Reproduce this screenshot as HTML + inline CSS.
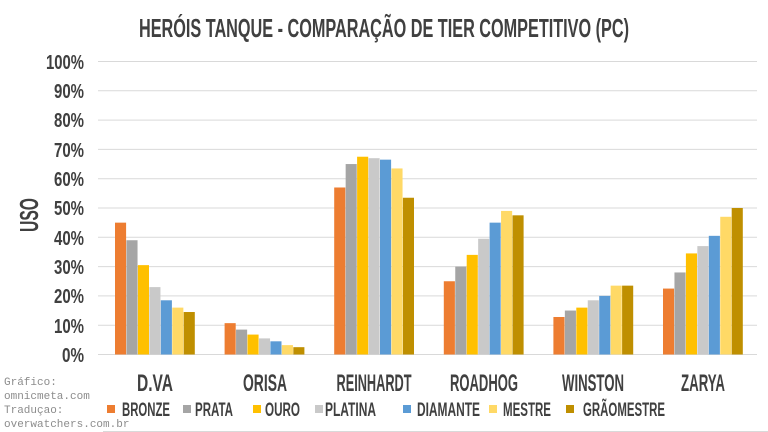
<!DOCTYPE html>
<html><head><meta charset="utf-8"><style>
body{margin:0;background:#fff}
svg{display:block}
text{font-family:"Liberation Sans Narrow","Liberation Sans",sans-serif;font-weight:bold;fill:#404040}
</style></head><body>
<svg width="768" height="432" viewBox="0 0 768 432">
<rect width="768" height="432" fill="#fff"/>
<text x="384" y="37" font-size="26" text-anchor="middle" textLength="490" lengthAdjust="spacingAndGlyphs" fill="#595959">HERÓIS TANQUE - COMPARAÇÃO DE TIER COMPETITIVO (PC)</text>
<g stroke="#d9d9d9" stroke-width="1">
<line x1="98" x2="757" y1="61.5" y2="61.5"/><line x1="98" x2="757" y1="90.8" y2="90.8"/><line x1="98" x2="757" y1="120.1" y2="120.1"/><line x1="98" x2="757" y1="149.4" y2="149.4"/><line x1="98" x2="757" y1="178.7" y2="178.7"/><line x1="98" x2="757" y1="208" y2="208"/><line x1="98" x2="757" y1="237.3" y2="237.3"/><line x1="98" x2="757" y1="266.6" y2="266.6"/><line x1="98" x2="757" y1="295.9" y2="295.9"/><line x1="98" x2="757" y1="325.2" y2="325.2"/><line x1="98" x2="757" y1="354.5" y2="354.5"/>
<line x1="103" x2="768" y1="431.5" y2="431.5"/>
</g>
<g font-size="20" text-anchor="end">
<text x="84" y="69" textLength="38" lengthAdjust="spacingAndGlyphs">100%</text>
<text x="84" y="98" textLength="30" lengthAdjust="spacingAndGlyphs">90%</text>
<text x="84" y="127" textLength="30" lengthAdjust="spacingAndGlyphs">80%</text>
<text x="84" y="157" textLength="30" lengthAdjust="spacingAndGlyphs">70%</text>
<text x="84" y="186" textLength="30" lengthAdjust="spacingAndGlyphs">60%</text>
<text x="84" y="215" textLength="30" lengthAdjust="spacingAndGlyphs">50%</text>
<text x="84" y="245" textLength="30" lengthAdjust="spacingAndGlyphs">40%</text>
<text x="84" y="274" textLength="30" lengthAdjust="spacingAndGlyphs">30%</text>
<text x="84" y="303" textLength="30" lengthAdjust="spacingAndGlyphs">20%</text>
<text x="84" y="333" textLength="30" lengthAdjust="spacingAndGlyphs">10%</text>
<text x="84" y="362" textLength="22" lengthAdjust="spacingAndGlyphs">0%</text>
</g>
<text transform="translate(38,215) rotate(-90)" font-size="26" text-anchor="middle" textLength="34" lengthAdjust="spacingAndGlyphs">USO</text>
<g id="bars"></g>
<g font-size="24" text-anchor="middle">
<text x="155" y="391" textLength="36" lengthAdjust="spacingAndGlyphs">D.VA</text>
<text x="265" y="391" textLength="44" lengthAdjust="spacingAndGlyphs">ORISA</text>
<text x="374" y="391" textLength="75" lengthAdjust="spacingAndGlyphs">REINHARDT</text>
<text x="484" y="391" textLength="68" lengthAdjust="spacingAndGlyphs">ROADHOG</text>
<text x="593" y="391" textLength="62" lengthAdjust="spacingAndGlyphs">WINSTON</text>
<text x="703" y="391" textLength="44" lengthAdjust="spacingAndGlyphs">ZARYA</text>
</g>
<g font-size="19">
<rect x="107" y="405" width="8" height="8" fill="#ed7d31"/><text x="122" y="416" textLength="48" lengthAdjust="spacingAndGlyphs">BRONZE</text>
<rect x="183" y="405" width="8" height="8" fill="#a5a5a5"/><text x="195" y="416" textLength="38" lengthAdjust="spacingAndGlyphs">PRATA</text>
<rect x="253" y="405" width="8" height="8" fill="#ffc000"/><text x="265" y="416" textLength="35" lengthAdjust="spacingAndGlyphs">OURO</text>
<rect x="315" y="405" width="8" height="8" fill="#c9c9c9"/><text x="325" y="416" textLength="51" lengthAdjust="spacingAndGlyphs">PLATINA</text>
<rect x="403" y="405" width="8" height="8" fill="#5b9bd5"/><text x="417" y="416" textLength="63" lengthAdjust="spacingAndGlyphs">DIAMANTE</text>
<rect x="489" y="405" width="8" height="8" fill="#ffd966"/><text x="503" y="416" textLength="48" lengthAdjust="spacingAndGlyphs">MESTRE</text>
<rect x="566" y="405" width="8" height="8" fill="#bf8f00"/><text x="583" y="416" textLength="82" lengthAdjust="spacingAndGlyphs">GRÃOMESTRE</text>
</g>
<g>
<text x="4" y="385" style="font-family:'Liberation Mono',monospace;font-weight:normal;fill:#8c8c8c;font-size:11px">Gráfico:</text>
<text x="4" y="399" style="font-family:'Liberation Mono',monospace;font-weight:normal;fill:#8c8c8c;font-size:11px">omnicmeta.com</text>
<text x="4" y="413" style="font-family:'Liberation Mono',monospace;font-weight:normal;fill:#8c8c8c;font-size:11px">Traduçao:</text>
<text x="4" y="427" style="font-family:'Liberation Mono',monospace;font-weight:normal;fill:#8c8c8c;font-size:11px">overwatchers.com.br</text>
</g>
</svg>
<script>
const data=[[45,39,30.5,23,18.5,16,14.5],[10.7,8.5,6.8,5.5,4.5,3.2,2.5],[57,65,67.5,67,66.5,63.5,53.5],[25,30,34,39.5,45,49,47.5],[12.8,15,16,18.5,20,23.5,23.5],[22.5,28,34.5,37,40.5,47,50]];
const cols=["#ed7d31","#a5a5a5","#ffc000","#c9c9c9","#5b9bd5","#ffd966","#bf8f00"];
const g=document.getElementById("bars");let s="";
data.forEach((d,i)=>{const x0=115+109.6*i;d.forEach((v,j)=>{const h=v*2.93;s+=`<rect x="${x0+j*11.45}" y="${354.5-h}" width="11.1" height="${h}" fill="${cols[j]}"/>`;});});
g.innerHTML=s;
</script>
</body></html>
